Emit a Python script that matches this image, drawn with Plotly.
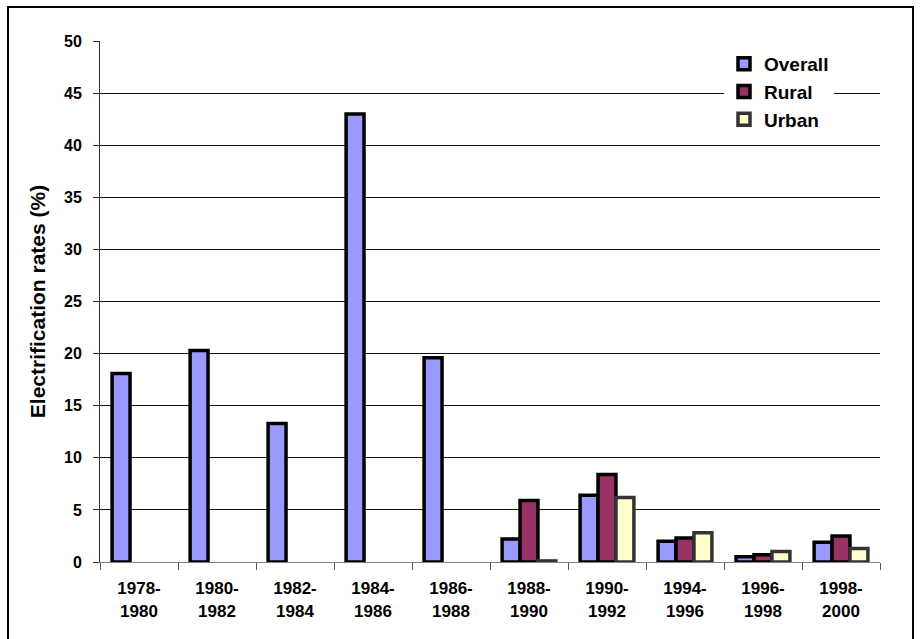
import plotly.graph_objects as go

# Electrification rates by period
periods = ["1978-1980", "1980-1982", "1982-1984", "1984-1986", "1986-1988",
           "1988-1990", "1990-1992", "1994-1996", "1996-1998", "1998-2000"]
tick_labels = [p.replace("-", "-<br>") for p in periods]

overall = [18.1, 20.3, 13.3, 43.0, 19.6, 2.2, 6.4, 2.0, 0.5, 1.9]
rural = [None, None, None, None, None, 5.9, 8.4, 2.3, 0.7, 2.5]
urban = [None, None, None, None, None, 0.1, 6.2, 2.8, 1.0, 1.3]

W, H = 922, 639
L, R, T, B = 100, 42, 41, 77
PW, PH = W - L - R, H - T - B

FONT = "Liberation Sans, Arial, sans-serif"


def px_x(x):
    return (x - L) / PW


def px_y(y):
    return (H - B - y) / PH


fig = go.Figure()
series = [
    ("Overall", overall, "#9999FF", "#000000"),
    ("Rural", rural, "#993366", "#000000"),
    ("Urban", urban, "#FFFFCC", "#333333"),
]
for name, vals, fill, edge in series:
    fig.add_trace(go.Bar(
        name=name, x=tick_labels, y=vals,
        marker=dict(color=fill, line=dict(color=edge, width=3.5)),
    ))

fig.update_layout(
    width=W, height=H,
    margin=dict(l=L, r=R, t=T, b=B, autoexpand=False),
    paper_bgcolor="white", plot_bgcolor="white",
    barmode="group", bargap=0.31, bargroupgap=0,
    font=dict(family=FONT, color="black"),
    showlegend=True,
    legend=dict(
        x=px_x(724), y=px_y(45), xanchor="left", yanchor="top",
        bgcolor="white", borderwidth=0,
        font=dict(family=FONT, size=19, weight="bold", color="black"),
        tracegroupgap=0,
    ),
    xaxis=dict(
        type="category", tickson="boundaries",
        ticks="outside", ticklen=7, tickcolor="#555555",
        showline=True, linecolor="#808080", linewidth=1,
        showgrid=False, zeroline=False,
        tickfont=dict(family=FONT, size=17, weight="bold", color="black"),
        ticklabelstandoff=11,
    ),
    yaxis=dict(
        range=[0, 50], dtick=5, tick0=0,
        ticks="outside", ticklen=6, tickcolor="#333333",
        showline=True, linecolor="#333333", linewidth=1,
        showgrid=True, gridcolor="#111111", gridwidth=1,
        zeroline=False,
        tickfont=dict(family=FONT, size=16, weight="bold", color="black"),
        ticklabelstandoff=8,
        title=dict(
            text="Electrification rates (%)",
            font=dict(family=FONT, size=21, weight="bold", color="black"),
            standoff=12,
        ),
    ),
)

# Outer chart frame
fig.add_shape(
    type="rect", xref="paper", yref="paper",
    x0=px_x(8), x1=px_x(913), y0=px_y(650), y1=px_y(7),
    line=dict(color="black", width=2), fillcolor="rgba(0,0,0,0)",
    layer="above",
)

fig.write_html("out.html")
